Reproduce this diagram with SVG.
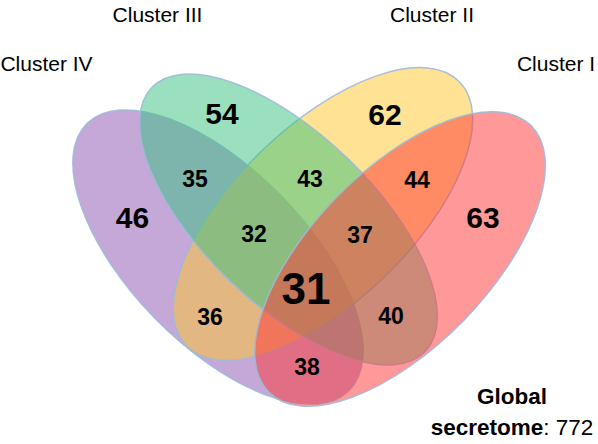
<svg xmlns="http://www.w3.org/2000/svg" width="598" height="444" viewBox="0 0 598 444">
<style>
.set{fill-opacity:0.5;stroke:#9DBAD8;stroke-width:1.5;stroke-opacity:0.9}
.lbl{font-family:"Liberation Sans",Arial,sans-serif;font-size:21px;fill:#000;text-anchor:middle}
.n{font-family:"Liberation Sans",Arial,sans-serif;font-weight:bold;fill:#000;text-anchor:middle}
.big{font-size:30px}
.sm{font-size:23px}
.huge{font-size:44px}
</style>
<rect width="598" height="444" fill="#fff"/>
<g id="cluster-iv">
<ellipse class="set" cx="218" cy="257" rx="187" ry="88" fill="#8B51B1" transform="rotate(45.6 218 257)"/>
</g>
<g id="cluster-ii">
<ellipse class="set" cx="323" cy="214" rx="190" ry="88" fill="#FFC529" transform="rotate(-44 323 214)"/>
</g>
<g id="cluster-iii">
<ellipse class="set" cx="288.5" cy="219.5" rx="190" ry="85" fill="#35C17F" transform="rotate(44 288.5 219.5)"/>
</g>
<g id="cluster-i">
<ellipse class="set" cx="400" cy="259" rx="187" ry="88.5" fill="#FF3333" transform="rotate(-45.6 400 259)"/>
</g>
<g id="labels">
<text class="lbl" x="157.5" y="22">Cluster III</text>
<text class="lbl" x="432" y="22">Cluster II</text>
<text class="lbl" x="46.5" y="71">Cluster IV</text>
<text class="lbl" x="556" y="71">Cluster I</text>
</g>
<g id="counts">
<text class="n big" x="222" y="124">54</text>
<text class="n big" x="385" y="125">62</text>
<text class="n big" x="132.5" y="228">46</text>
<text class="n big" x="483" y="228">63</text>
<text class="n sm" x="195" y="187">35</text>
<text class="n sm" x="310" y="187">43</text>
<text class="n sm" x="417" y="188">44</text>
<text class="n sm" x="254" y="242">32</text>
<text class="n sm" x="360" y="243">37</text>
<text class="n sm" x="210" y="325">36</text>
<text class="n sm" x="391" y="324">40</text>
<text class="n sm" x="307" y="375">38</text>
<text class="n huge" x="306" y="304">31</text>
</g>
<g id="total">
<text class="lbl" x="512" y="404" font-size="22.5" style="font-size:22.5px;font-weight:bold">Global</text>
<text class="lbl" x="512" y="435" style="font-size:22.5px"><tspan font-weight="bold">secretome</tspan>: 772</text>
</g>
</svg>
